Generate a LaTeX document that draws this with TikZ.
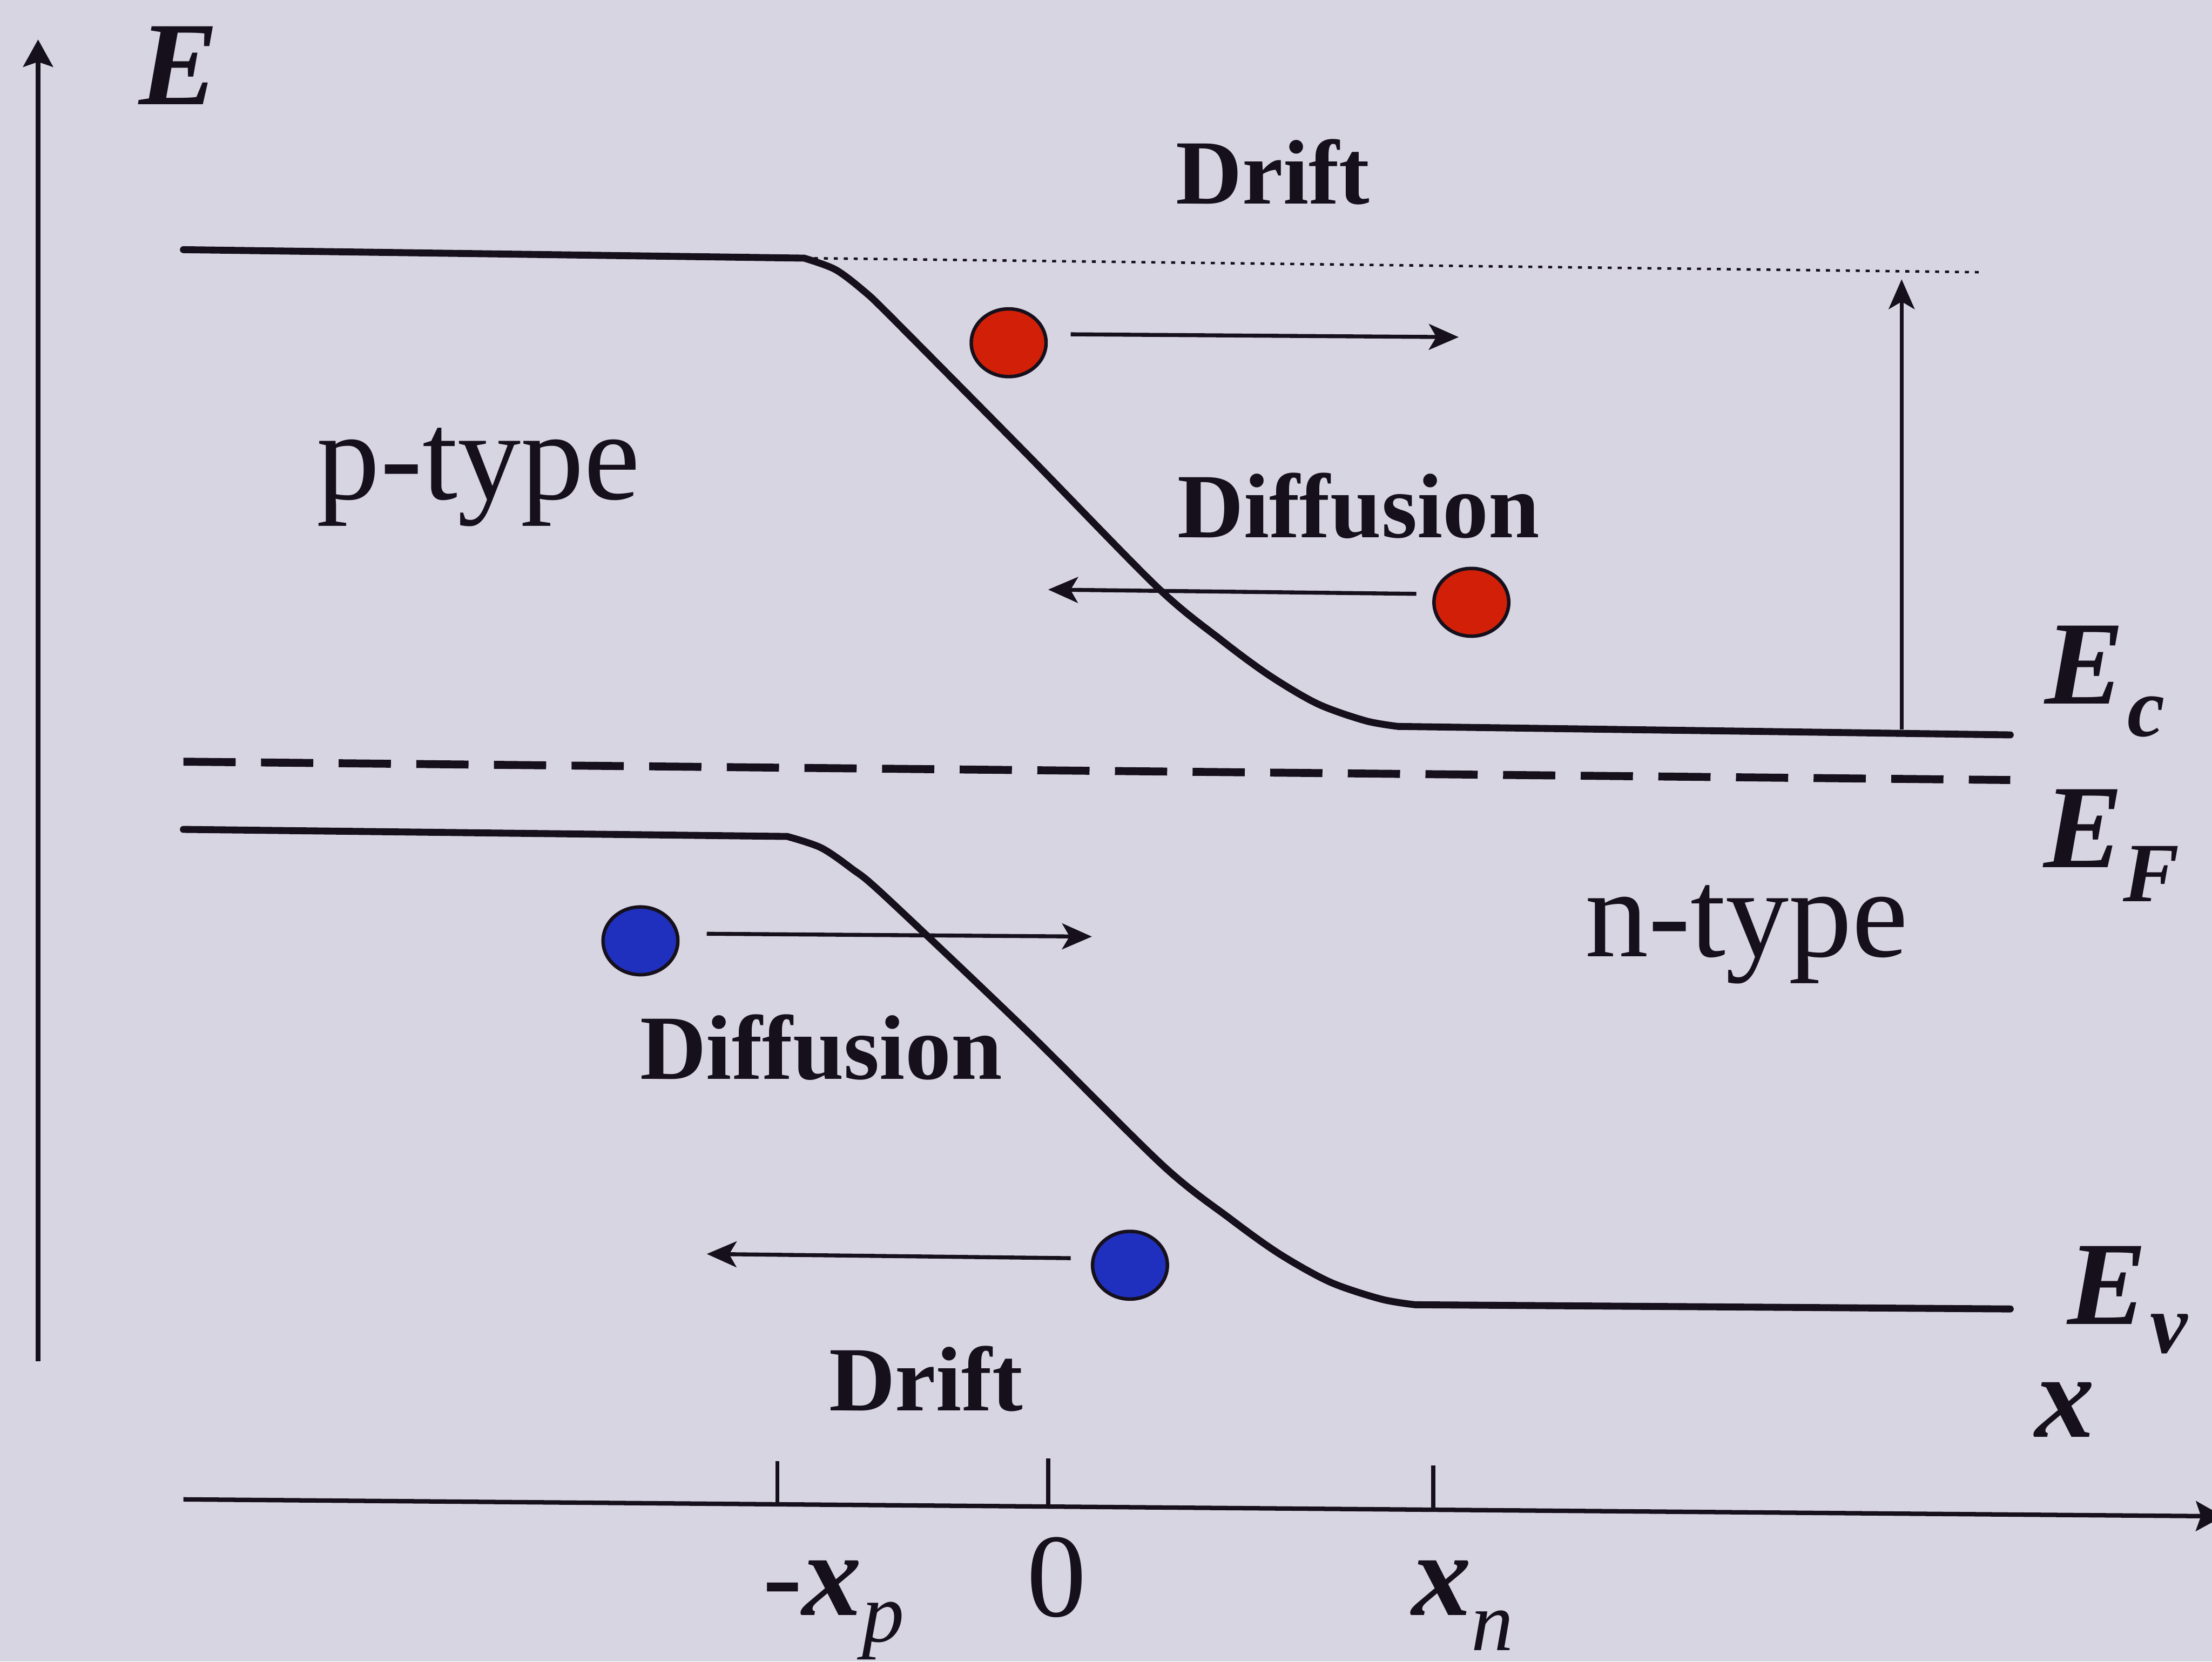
\documentclass[tikz,border=0pt]{standalone}
\usepackage{fontspec}
\setmainfont{Liberation Serif}
\usetikzlibrary{arrows.meta,shapes.geometric}
\definecolor{bg}{RGB}{216,213,226}
\definecolor{ink}{RGB}{22,16,28}
\definecolor{eRed}{RGB}{210,32,8}
\definecolor{hBlue}{RGB}{32,48,190}
\tikzset{
  band/.style={draw=ink, line width=1.4pt, line join=round, line cap=round},
  fermi/.style={draw=ink, line width=1.6pt, dash pattern=on 0.37cm off 0.18cm},
  dotline/.style={draw=ink, line width=0.5pt, dash pattern=on 0.8pt off 1.2pt},
  thinline/.style={draw=ink, line width=0.8pt},
  arr/.style={draw=ink, line width=0.8pt, -{Stealth[length=6pt,width=5.2pt,inset=1.5pt]}},
  axisarr/.style={draw=ink, line width=0.9pt, -{Stealth[length=5.5pt,width=6pt,inset=1pt]}},
  ball/.style={ellipse, draw=ink, line width=0.7pt, minimum width=0.53cm, minimum height=0.48cm, inner sep=0pt},
  redball/.style={ball, fill=eRed},
  blueball/.style={ball, fill=hBlue},
  boldlbl/.style={font=\fontsize{18.5}{20}\selectfont\bfseries, inner sep=0pt, anchor=base west, text=ink},
  typelbl/.style={font=\fontsize{25.5}{28}\selectfont, inner sep=0pt, anchor=base west, text=ink},
  symlbl/.style={font=\fontsize{24}{26}\selectfont\bfseries\itshape, inner sep=0pt, anchor=base west, text=ink},
}
\newcommand{\subl}[2]{\raisebox{-#1}{\fontsize{17}{17}\selectfont\bfseries\itshape #2}}
\newcommand{\subm}[2]{\raisebox{-#1}{\fontsize{17}{17}\selectfont\mdseries\itshape #2}}
\begin{document}
\begin{tikzpicture}[x=0.01cm, y=-0.01cm]
  \fill[bg] (0,0) rectangle (1568,1178);
  \useasboundingbox (0,0) rectangle (1568,1178);

  % axes
  \coordinate (eb) at (27,965);
  \coordinate (et) at (27,28);
  \draw[axisarr] (eb) -- (et);
  \coordinate (xl) at (130,1063);
  \coordinate (xr) at (1576,1075);
  \draw[axisarr] (xl) -- (xr);
  \coordinate (t1a) at (551,1036); \coordinate (t1b) at (551,1066.5);
  \coordinate (t2a) at (743,1034); \coordinate (t2b) at (743,1068);
  \coordinate (t3a) at (1016,1039); \coordinate (t3b) at (1016,1070.5);
  \draw[thinline] (t1a) -- (t1b);
  \draw[thinline] (t2a) -- (t2b);
  \draw[thinline] (t3a) -- (t3b);

  % conduction band
  \coordinate (cbl) at (130,177);
  \coordinate (cbc) at (570,183);
  \coordinate (cbe) at (991,515);
  \coordinate (cbr) at (1425,521);
  \draw[band] (cbl) -- (cbc) -- plot[smooth, tension=0.5] coordinates {(570,183) (592,191) (612,206) (632,225) (726,320) (820,416) (866,454) (900,479) (934,499) (968,511) (991,515)} -- (cbr);

  % valence band
  \coordinate (vbl) at (130,588);
  \coordinate (vbc) at (558,593);
  \coordinate (vbe) at (1003,925);
  \coordinate (vbr) at (1425,928);
  \draw[band] (vbl) -- (vbc) -- plot[smooth, tension=0.5] coordinates {(558,593) (582,601) (604,616) (627,635) (727,730) (824,826) (872,864) (907,889) (943,909) (979,921) (1003,925)} -- (vbr);

  % Fermi level
  \coordinate (efl) at (130,540);
  \coordinate (efr) at (1425,553);
  \draw[fermi] (efl) -- (efr);

  % dotted level and barrier arrow
  \coordinate (dotr) at (1405,193);
  \draw[dotline] (cbc) -- (dotr);
  \coordinate (vb) at (1348,517);
  \coordinate (vt) at (1348,198);
  \draw[arr] (vb) -- (vt);

  % carriers
  \node[redball] (r1) at (715,243) {};
  \node[redball] (r2) at (1043,427) {};
  \node[blueball] (b1) at (454,667) {};
  \node[blueball] (b2) at (801,897) {};

  \coordinate (a1s) at (759,237); \coordinate (a1e) at (1034,239);
  \coordinate (a2s) at (1004,421); \coordinate (a2e) at (743,418);
  \coordinate (a3s) at (501,662); \coordinate (a3e) at (774,664);
  \coordinate (a4s) at (759,892); \coordinate (a4e) at (501,889);
  \draw[arr] (a1s) -- (a1e);
  \draw[arr] (a2s) -- (a2e);
  \draw[arr] (a3s) -- (a3e);
  \draw[arr] (a4s) -- (a4e);

  % labels
  \node[boldlbl] (drift1) at (833,144.5) {Drift};
  \node[boldlbl] (diff1) at (834,381) {Diffusion};
  \node[boldlbl] (diff2) at (453,765) {Diffusion};
  \node[boldlbl] (drift2) at (587,1000) {Drift};
  \node[typelbl] (ptype) at (224,354) {p-type};
  \node[typelbl] (ntype) at (1123,678) {n-type};

  \node[symlbl] (Elab) at (98,74) {E};
  \node[symlbl] (Ec) at (1449,499) {E\kern0.02cm\subl{0.23cm}{c}};
  \node[symlbl] (EF) at (1448,615) {E\kern0.0cm\subl{0.24cm}{F}};
  \node[symlbl] (Ev) at (1465,939) {E\kern0.02cm\subl{0.20cm}{v}};
  \node[symlbl] (xlab) at (1442,1019) {x};
  \node[symlbl] (xp) at (540,1145) {{\upshape\mdseries -}x\subm{0.19cm}{p}};
  \node[symlbl, anchor=base] (zero) at (749,1146) {\upshape\mdseries 0};
  \node[symlbl] (xn) at (1000,1145) {x\subm{0.25cm}{n}};
\end{tikzpicture}
\end{document}
